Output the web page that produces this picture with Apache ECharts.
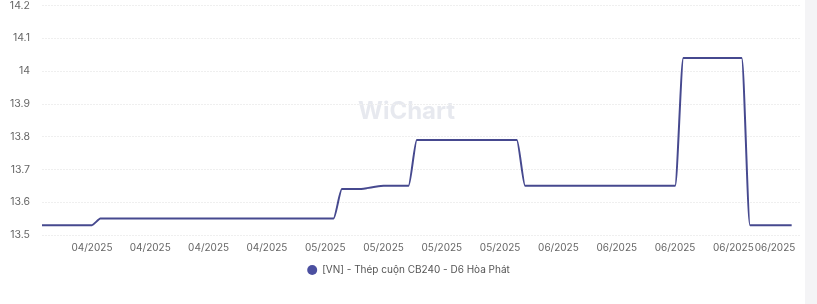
<!DOCTYPE html>
<html>
<head>
<meta charset="utf-8">
<script src="https://cdn.jsdelivr.net/npm/echarts@6/dist/echarts.min.js"></script>
<style>
html,body{margin:0;padding:0;background:#fff;}
#chart{width:817px;height:304px;}
#bar{position:absolute;left:805px;top:0;width:12px;height:304px;background:#f4f4f6;}
</style>
</head>
<body>
<div id="chart"></div>
<div id="bar"></div>
<script>
// Daily categories from 31/03/2025 to 30/06/2025
const startDate = '2025-03-31';
const dayCount = 92;
const seriesName = '[VN] - Thép cuộn CB240 - D6 Hòa Phát';
const yTicks = [13.5, 13.6, 13.7, 13.8, 13.9, 14.0, 14.1, 14.2];
const lastLabelIndex = 88;
const prices = [
  13.53,13.53,13.53,13.53,13.53,13.53,13.53,
  13.55,13.55,13.55,13.55,13.55,13.55,13.55,13.55,13.55,13.55,
  13.55,13.55,13.55,13.55,13.55,13.55,13.55,13.55,13.55,13.55,
  13.55,13.55,13.55,13.55,13.55,13.55,13.55,13.55,13.55,
  13.64,13.64,13.64,13.643,13.647,
  13.65,13.65,13.65,13.65,
  13.79,13.79,13.79,13.79,13.79,13.79,13.79,13.79,13.79,13.79,13.79,13.79,13.79,
  13.65,13.65,13.65,13.65,13.65,13.65,13.65,13.65,13.65,13.65,
  13.65,13.65,13.65,13.65,13.65,13.65,13.65,13.65,13.65,
  14.04,14.04,14.04,14.04,14.04,14.04,14.04,14.04,
  13.53,13.53,13.53,13.53,13.53,13.53,
  null
];

const categories = [];
(function(){
  const d0 = new Date(startDate + 'T00:00:00Z');
  for (let i = 0; i < dayCount; i++) {
    const d = new Date(d0.getTime() + i * 86400000);
    const mm = String(d.getUTCMonth() + 1).padStart(2, '0');
    const dd = String(d.getUTCDate()).padStart(2, '0');
    categories.push(dd + '/' + mm + '/' + d.getUTCFullYear());
  }
})();

const chart = echarts.init(document.getElementById('chart'), null, {renderer: 'canvas'});
chart.setOption({
  animation: false,
  grid: {left: 42, right: 17, top: 3, bottom: 69},
  graphic: [{
    type: 'text', left: 358, top: 100, silent: true, z: 0,
    style: {text: 'WiChart', fontFamily: 'Inter, sans-serif', fontSize: 24, fontWeight: 'bold', fill: 'rgba(195,200,215,0.4)'}
  }],
  legend: {
    bottom: 24, left: 'center', itemWidth: 10, itemHeight: 10, icon: 'circle',
    textStyle: {color: '#555', fontSize: 10, fontFamily: 'Inter, sans-serif'},
    data: [seriesName]
  },
  xAxis: {
    type: 'category', boundaryGap: false, data: categories,
    axisLine: {show: false}, axisTick: {show: false},
    splitLine: {show: false},
    axisLabel: {
      color: '#666', fontSize: 10, fontFamily: 'Inter, sans-serif', margin: 8,
      interval: function(i){ return (i % 7 === 6 && i < 84) || i === lastLabelIndex; },
      formatter: function(v){
        const p = v.split('/');
        return p[1] + '/' + p[2];
      }
    }
  },
  yAxis: {
    type: 'value', min: yTicks[0], max: yTicks[yTicks.length - 1], interval: 0.1,
    axisLine: {show: false}, axisTick: {show: false},
    axisLabel: {color: '#666', fontSize: 10.5, fontFamily: 'Inter, sans-serif', margin: 12,
      formatter: function(v){ return String(Math.round(v * 10) / 10); }},
    splitLine: {lineStyle: {color: '#efefef', type: [2, 1]}}
  },
  series: [{
    name: seriesName, type: 'line', data: prices,
    smooth: 0.15, showSymbol: false, symbol: 'circle',
    itemStyle: {color: '#4b4fa0'},
    lineStyle: {color: '#46498f', width: 2}
  }]
});
</script>
</body>
</html>
